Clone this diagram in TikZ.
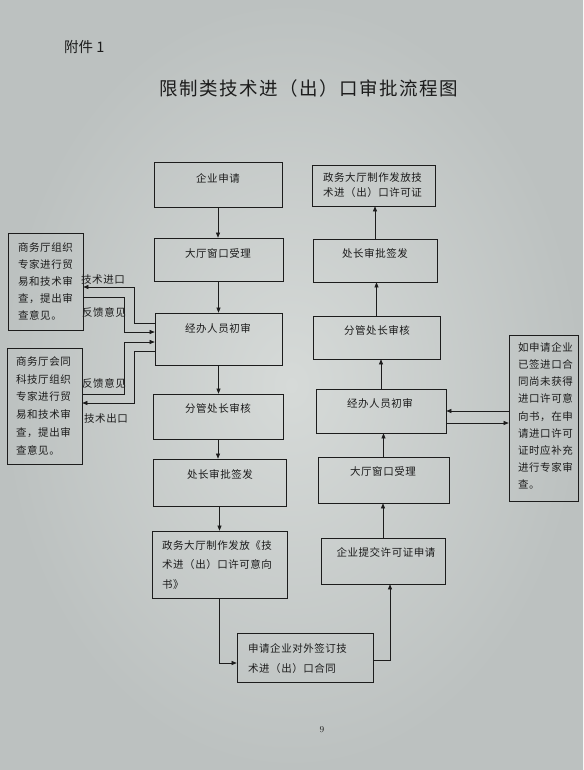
\documentclass[tikz,border=0pt]{standalone}
\usepackage{fontspec}
\usetikzlibrary{arrows.meta,calc}
\newfontfamily\cjk{Noto Sans CJK SC}
\newfontfamily\cjkbox[LetterSpace=5]{Noto Sans CJK SC}
\newfontfamily\cjktitle[LetterSpace=8]{Noto Sans CJK SC}
\definecolor{bgin}{RGB}{214,218,216}
\definecolor{bgout}{RGB}{188,193,192}
\definecolor{ink}{RGB}{28,28,28}
\begin{document}
\begin{tikzpicture}[x=1pt,y=-1pt,
  box/.style={draw=ink, line width=0.7pt, rectangle, inner sep=0pt},
  txt/.style={text=ink, font=\cjkbox\fontsize{10.5}{17}\selectfont, inner sep=0pt},
  mtxt/.style={text=ink, inner sep=0pt, align=left, anchor=north west, font=\cjkbox\fontsize{10.5}{#1}\selectfont},
  mtxt/.default=17,
  arr/.style={draw=ink, line width=0.6pt, -{Triangle[length=5pt,width=4pt]}}
]
\useasboundingbox (0,0) rectangle (583,770);
\shade[inner color=bgin, outer color=bgout] (0,0) rectangle (583,770);

% header and title
\node[anchor=west, text=ink, inner sep=0pt, font=\cjk\fontsize{14.5}{16}\selectfont] (hd) at (64,47) {附件 1};
\node[text=ink, inner sep=0pt, font=\cjktitle\fontsize{18.5}{20}\selectfont] (ti) at (309,88) {限制类技术进（出）口审批流程图};
\node[text=ink, inner sep=0pt, font=\fontsize{9}{10}\selectfont] (pg) at (322,730) {9};

% left column boxes
\node[box, minimum width=128pt, minimum height=45pt] (L1) at (218,184.5) {};
\node[box, minimum width=129pt, minimum height=43pt] (L2) at (218.5,259.5) {};
\node[box, minimum width=127pt, minimum height=52pt] (L3) at (218.5,339) {};
\node[box, minimum width=130pt, minimum height=45pt] (L4) at (218,416.5) {};
\node[box, minimum width=133pt, minimum height=47pt] (L5) at (219.5,482.5) {};
\node[box, minimum width=135pt, minimum height=67pt] (L6) at (219.5,564.5) {};
\node[box, minimum width=136pt, minimum height=49pt] (L7) at (305,657.5) {};

\node[txt] (tL1) at (218,178) {企业申请};
\node[txt] (tL2) at (218,253) {大厅窗口受理};
\node[txt] (tL3) at (218,328) {经办人员初审};
\node[txt] (tL4) at (218,408) {分管处长审核};
\node[txt] (tL5) at (220,474) {处长审批签发};
\node[mtxt=19.5] (tL6) at (162,540) {政务大厅制作发放《技\\术进（出）口许可意向\\书》};
\node[mtxt=20] (tL7) at (248,643) {申请企业对外签订技\\术进（出）口合同};

% right column boxes
\node[box, minimum width=123pt, minimum height=41pt] (R1) at (373.5,185.5) {};
\node[box, minimum width=124pt, minimum height=43pt] (R2) at (375,260.5) {};
\node[box, minimum width=127pt, minimum height=43pt] (R3) at (376.5,337.5) {};
\node[box, minimum width=130pt, minimum height=44pt] (R4) at (381,411) {};
\node[box, minimum width=131pt, minimum height=46pt] (R5) at (383.5,480) {};
\node[box, minimum width=124pt, minimum height=46pt] (R6) at (383,561) {};

\node[mtxt=15] (tR1) at (323,172.5) {政务大厅制作发放技\\术进（出）口许可证};
\node[txt] (tR2) at (375,253) {处长审批签发};
\node[txt] (tR3) at (377,330) {分管处长审核};
\node[txt] (tR4) at (380,403) {经办人员初审};
\node[txt] (tR5) at (383,471) {大厅窗口受理};
\node[txt] (tR6) at (386,552) {企业提交许可证申请};

% side boxes
\node[box, minimum width=75pt, minimum height=97pt] (S1) at (45.5,281.5) {};
\node[box, minimum width=75pt, minimum height=116pt] (S2) at (44.5,406) {};
\node[box, minimum width=69pt, minimum height=166pt] (S3) at (543.5,418) {};

\node[mtxt=17] (tS1) at (18,242.5) {商务厅组织\\专家进行贸\\易和技术审\\查，提出审\\查意见。};
\node[mtxt=17.7] (tS2) at (16,356.5) {商务厅会同\\科技厅组织\\专家进行贸\\易和技术审\\查，提出审\\查意见。};
\node[mtxt=17.1] (tS3) at (518,342.5) {如申请企业\\已签进口合\\同尚未获得\\进口许可意\\向书，在申\\请进口许可\\证时应补充\\进行专家审\\查。};

% connector labels
\node[txt] (k1) at (103,280) {技术进口};
\node[txt] (k2) at (104,312) {反馈意见};
\node[txt] (k3) at (104,383) {反馈意见};
\node[txt] (k4) at (106,419) {技术出口};

% corner coordinates
\coordinate (c1) at (134,287);
\coordinate (c2) at (124,332);
\coordinate (c3) at (124,342);
\coordinate (c4) at (134,403);

% left column flow
\draw[arr] (L1.south) -- (L1.south |- L2.north);
\draw[arr] (L2.south) -- (L2.south |- L3.north);
\draw[arr] (L3.south) -- (L3.south |- L4.north);
\draw[arr] (L4.south) -- (L4.south |- L5.north);
\draw[arr] (L5.south) -- (L5.south |- L6.north);
\draw[arr] (L6.south) |- ($(L7.west)+(0,5.5)$);
\draw[arr] ($(L7.east)+(0,2.5)$) -| ($(R6.south)+(7,0)$);

% right column flow
\draw[arr] (R6.north) -- (R6.north |- R5.south);
\draw[arr] (R5.north) -- (R5.north |- R4.south);
\draw[arr] (R4.north) -- (R4.north |- R3.south);
\draw[arr] (R3.north) -- (R3.north |- R2.south);
\draw[arr] (R2.north) -- (R2.north |- R1.south);

% left side exchanges
\draw[arr] ($(L3.west)+(0,-16)$) -| (c1) -- ($(S1.east)+(0,5.5)$);
\draw[arr] ($(S1.east)+(0,15.5)$) -| (c2) -- ($(L3.west)+(0,-7)$);
\draw[arr] ($(S2.east)+(0,-12)$) -| (c3) -- ($(L3.west)+(0,3)$);
\draw[arr] ($(L3.west)+(0,12)$) -| (c4) -- ($(S2.east)+(0,-3)$);

% right side exchanges
\draw[arr] ($(S3.west)+(0,-7)$) -- (R4.east);
\draw[arr] ($(R4.east)+(0,12)$) -- ($(S3.west)+(0,5)$);
\end{tikzpicture}
\end{document}
